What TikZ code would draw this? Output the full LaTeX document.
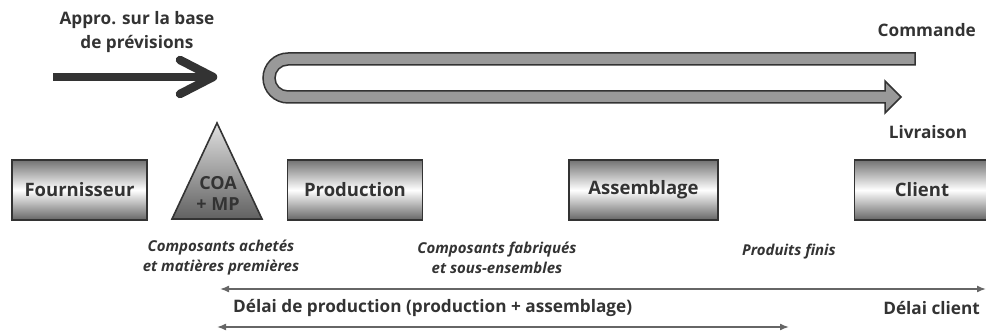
\documentclass[tikz,border=0pt]{standalone}
\usepackage{fontspec}
\setmainfont{Open Sans}
\usetikzlibrary{arrows.meta,calc}
\definecolor{ink}{HTML}{333333}
\definecolor{bandfill}{HTML}{999999}
\definecolor{dimline}{HTML}{666666}
\tikzset{
  stage/.style={draw=ink, line width=1.6pt, minimum width=135pt, minimum height=60pt,
    top color=black!55, bottom color=black!60, middle color=white,
    font=\fontsize{18.5}{20}\selectfont\bfseries, text=ink, inner sep=0pt},
  lbl/.style={font=\fontsize{17.2}{24}\selectfont\bfseries, text=ink, inner sep=0pt},
  note/.style={font=\fontsize{15}{20}\selectfont\bfseries\itshape, text=ink, inner sep=0pt, align=center},
  dim/.style={draw=dimline, line width=1.5pt, {Latex[length=9pt,width=7pt]}-{Latex[length=9pt,width=7pt]}},
  band/.style={fill=bandfill, draw=ink, line width=1.5pt, line join=miter},
}
\begin{document}
\begin{tikzpicture}[x=1pt,y=-1pt]
\useasboundingbox (0,0) rectangle (986,331);

% forecast-driven supply arrow
\node[lbl, align=center] (appro) at (137,32) {Appro. sur la base\\de prévisions};
\coordinate (pushA) at (53,77);
\coordinate (pushB) at (207,77);
\coordinate (pushTip) at (213,77);
\draw[ink, line width=8.5pt] (pushA) -- (pushB);
\draw[ink, line width=8.5pt, line cap=round, line join=round]
  ($(pushTip)+(-33,-17)$) -- (pushTip) -- ($(pushTip)+(-33,17)$);

% order / delivery loop
\draw[band] (915,53) -- (288,53) arc[start angle=270, end angle=90, radius=25]
  -- (885,103) -- (885,113) -- (901,97) -- (885,81) -- (885,91)
  -- (288,91) arc[start angle=90, end angle=270, radius=13]
  -- (915,65) -- cycle;
\node[lbl, anchor=east] (cmd) at (976,30) {Commande};
\node[lbl] (livr) at (928,132) {Livraison};

% stages
\node[stage] (four) at (79.5,190) {Fournisseur};
\shade[top color=black!12, bottom color=black!62, draw=ink, line width=1.6pt, line join=miter]
  (217,123) -- (262,219) -- (172,219) -- cycle;
\node[font=\fontsize{18}{21}\selectfont\bfseries, text=ink, align=center, inner sep=0pt] (coa) at (218,193) {COA\\+ MP};
\node[stage] (prod) at (355,190) {Production};
\node[stage, minimum width=149pt] (asm) at (643.5,190) {Assemblage};
\node[stage] (cli) at (922,190) {Client};

% stock notes
\node[note] (n1) at (221,258) {Composants achetés\\et matières premières};
\node[note] (n2) at (497,258) {Composants fabriqués\\et sous-ensembles};
\node[note] (n3) at (789,252) {Produits finis};

% lead times
\coordinate (d1a) at (220,289);
\coordinate (d1b) at (986,289);
\coordinate (d2a) at (217,327);
\coordinate (d2b) at (789,327);
\draw[dim] (d1a) -- (d1b);
\draw[dim] (d2a) -- (d2b);
\node[lbl, anchor=west] (dprod) at (233,308) {Délai de production (production + assemblage)};
\node[lbl, anchor=east] (dcli) at (980,308) {Délai client};
\end{tikzpicture}
\end{document}
